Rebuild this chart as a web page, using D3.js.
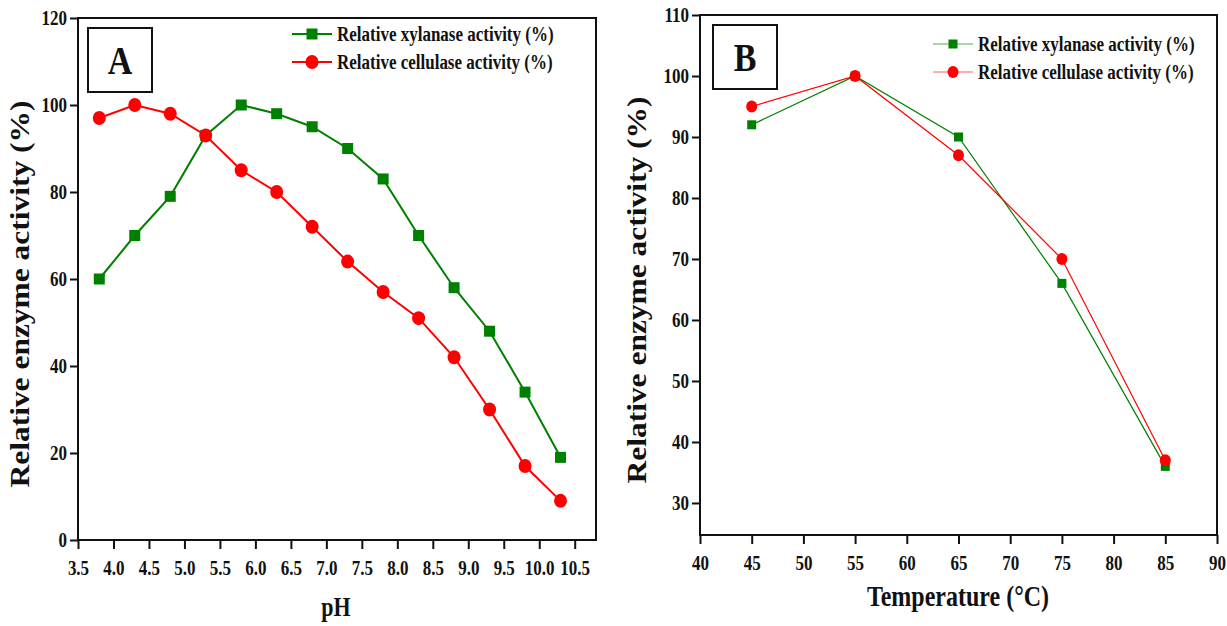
<!DOCTYPE html>
<html>
<head>
<meta charset="utf-8">
<script src="https://cdn.jsdelivr.net/npm/d3@7"></script>
<style>
  body { margin: 0; background: #fff; }
</style>
</head>
<body>
<div id="chart"></div>
<script>
// datos
var phValues = [3.8, 4.3, 4.8, 5.3, 5.8, 6.3, 6.8, 7.3, 7.8, 8.3, 8.8, 9.3, 9.8, 10.3];
var phXylanase = [60, 70, 79, 93, 100, 98, 95, 90, 83, 70, 58, 48, 34, 19];
var phCellulase = [97, 100, 98, 93, 85, 80, 72, 64, 57, 51, 42, 30, 17, 9];

var tempValues = [45, 55, 65, 75, 85];
var tempXylanase = [92, 100, 90, 66, 36];
var tempCellulase = [95, 100, 87, 70, 37];

var phTicks = [3.5, 4.0, 4.5, 5.0, 5.5, 6.0, 6.5, 7.0, 7.5, 8.0, 8.5, 9.0, 9.5, 10.0, 10.5];
var phYTicks = [0, 20, 40, 60, 80, 100, 120];
var tempTicks = [40, 45, 50, 55, 60, 65, 70, 75, 80, 85, 90];
var tempYTicks = [30, 40, 50, 60, 70, 80, 90, 100, 110];

var seriesNames = ["Relative xylanase activity (%)", "Relative cellulase activity (%)"];

var FONT = '"Liberation Serif", "Times New Roman", serif';
var SY = 1.2; // el texto original esta estirado en vertical

var svg = d3.select("#chart").append("svg")
  .attr("width", 1227).attr("height", 626);

// texto horizontal con el estiramiento vertical
function label(sel, x, y, size, txt, anchor) {
  return sel.append("text")
    .attr("transform", "translate(" + x + "," + y + ") scale(1," + SY + ")")
    .attr("text-anchor", anchor || "start")
    .style("font-family", FONT).style("font-weight", "bold")
    .style("font-size", size + "px").attr("fill", "#111")
    .text(txt);
}

function panel(cfg) {
  var x = d3.scaleLinear().domain(cfg.xDomain).range([cfg.left, cfg.right]);
  var y = d3.scaleLinear().domain(cfg.yDomain).range([cfg.bottom, cfg.top]);
  var g = svg.append("g");

  // ejes
  var xAxis = d3.axisBottom(x).tickValues(cfg.xTicks).tickSize(9).tickPadding(8)
    .tickFormat(cfg.xFormat);
  var yAxis = d3.axisLeft(y).tickValues(cfg.yTicks).tickSize(8).tickPadding(3)
    .tickFormat(d3.format("d"));

  var gx = g.append("g").attr("transform", "translate(0," + cfg.bottom + ")").call(xAxis);
  var gy = g.append("g").attr("transform", "translate(" + cfg.left + ",0)").call(yAxis);
  [gx, gy].forEach(function(a) {
    a.select(".domain").remove();
    a.selectAll("line").attr("stroke", "#111").attr("stroke-width", 2);
    a.selectAll("text")
      .attr("transform", "scale(1," + SY + ")")
      .attr("fill", "#111")
      .style("font-family", FONT).style("font-weight", "bold")
      .style("font-size", "17px");
  });

  // marco
  g.append("rect")
    .attr("x", cfg.left).attr("y", cfg.top)
    .attr("width", cfg.right - cfg.left).attr("height", cfg.bottom - cfg.top)
    .attr("fill", "none").attr("stroke", "#111").attr("stroke-width", 2);

  // caja con la letra
  g.append("rect")
    .attr("x", cfg.left + cfg.boxDx).attr("y", cfg.top + 10)
    .attr("width", 64).attr("height", 64)
    .attr("fill", "none").attr("stroke", "#111").attr("stroke-width", 2);
  label(g, cfg.left + cfg.boxDx + 32, cfg.top + 56, 34, cfg.letter, "middle");

  // titulos de los ejes
  label(g, cfg.xTitleX, cfg.xTitleY, cfg.xTitleSize, cfg.xTitle, "middle");
  g.append("text")
    .attr("transform", "translate(" + cfg.yTitleX + "," + cfg.yTitleY + ") rotate(-90)")
    .attr("text-anchor", "middle")
    .attr("textLength", 387).attr("lengthAdjust", "spacingAndGlyphs")
    .style("font-family", FONT).style("font-weight", "bold")
    .style("font-size", "27px").attr("fill", "#111")
    .text("Relative enzyme activity (%)");

  var line = d3.line()
    .x(function(d) { return x(d[0]); })
    .y(function(d) { return y(d[1]); });

  var series = [
    { vals: cfg.xyl, color: "#008000", shape: "square" },
    { vals: cfg.cel, color: "#ff0000", shape: "circle" }
  ];

  function marker(sel, shape, color, cx, cy) {
    if (shape == "square") {
      sel.append("rect")
        .attr("x", cx - cfg.sq / 2).attr("y", cy - cfg.sq / 2)
        .attr("width", cfg.sq).attr("height", cfg.sq)
        .attr("fill", color);
    } else {
      sel.append("ellipse").attr("cx", cx).attr("cy", cy)
        .attr("rx", cfg.r).attr("ry", cfg.r * 1.08)
        .attr("fill", color);
    }
  }

  series.forEach(function(s) {
    var pts = cfg.xs.map(function(v, i) { return [v, s.vals[i]]; });
    g.append("path")
      .attr("d", line(pts))
      .attr("fill", "none")
      .attr("stroke", s.color)
      .attr("stroke-width", cfg.lw);
    var mg = g.append("g");
    pts.forEach(function(p) { marker(mg, s.shape, s.color, x(p[0]), y(p[1])); });
  });

  // leyenda
  series.forEach(function(s, i) {
    var ly = cfg.legY + i * 28;
    g.append("line")
      .attr("x1", cfg.legX).attr("x2", cfg.legX + 40)
      .attr("y1", ly).attr("y2", ly)
      .attr("stroke", cfg.legendColors[i]).attr("stroke-width", cfg.lw);
    marker(g, s.shape, s.color, cfg.legX + 20, ly);
    label(g, cfg.legX + 45, ly + 6.5, 17, seriesNames[i]);
  });
}

panel({
  letter: "A",
  left: 78, right: 596, top: 18, bottom: 540,
  xDomain: [3.5, 10.8], yDomain: [0, 120],
  xTicks: phTicks, yTicks: phYTicks,
  xFormat: d3.format(".1f"),
  xs: phValues, xyl: phXylanase, cel: phCellulase,
  xTitle: "pH", xTitleX: 336, xTitleY: 616, xTitleSize: 22,
  yTitleX: 29, yTitleY: 294,
  boxDx: 10,
  legX: 292, legY: 34,
  legendColors: ["#008000", "#ff0000"],
  lw: 2, sq: 11, r: 6.5
});

panel({
  letter: "B",
  left: 700, right: 1217, top: 15, bottom: 535,
  xDomain: [40, 90], yDomain: [24.75, 110],
  xTicks: tempTicks, yTicks: tempYTicks,
  xFormat: d3.format("d"),
  xs: tempValues, xyl: tempXylanase, cel: tempCellulase,
  xTitle: "Temperature (\u00B0C)", xTitleX: 958, xTitleY: 606, xTitleSize: 24,
  yTitleX: 646, yTitleY: 290,
  boxDx: 13,
  legX: 933, legY: 44,
  legendColors: ["#4caf50", "#ff5a5a"],
  lw: 1.2, sq: 9, r: 5.5
});
</script>
</body>
</html>
